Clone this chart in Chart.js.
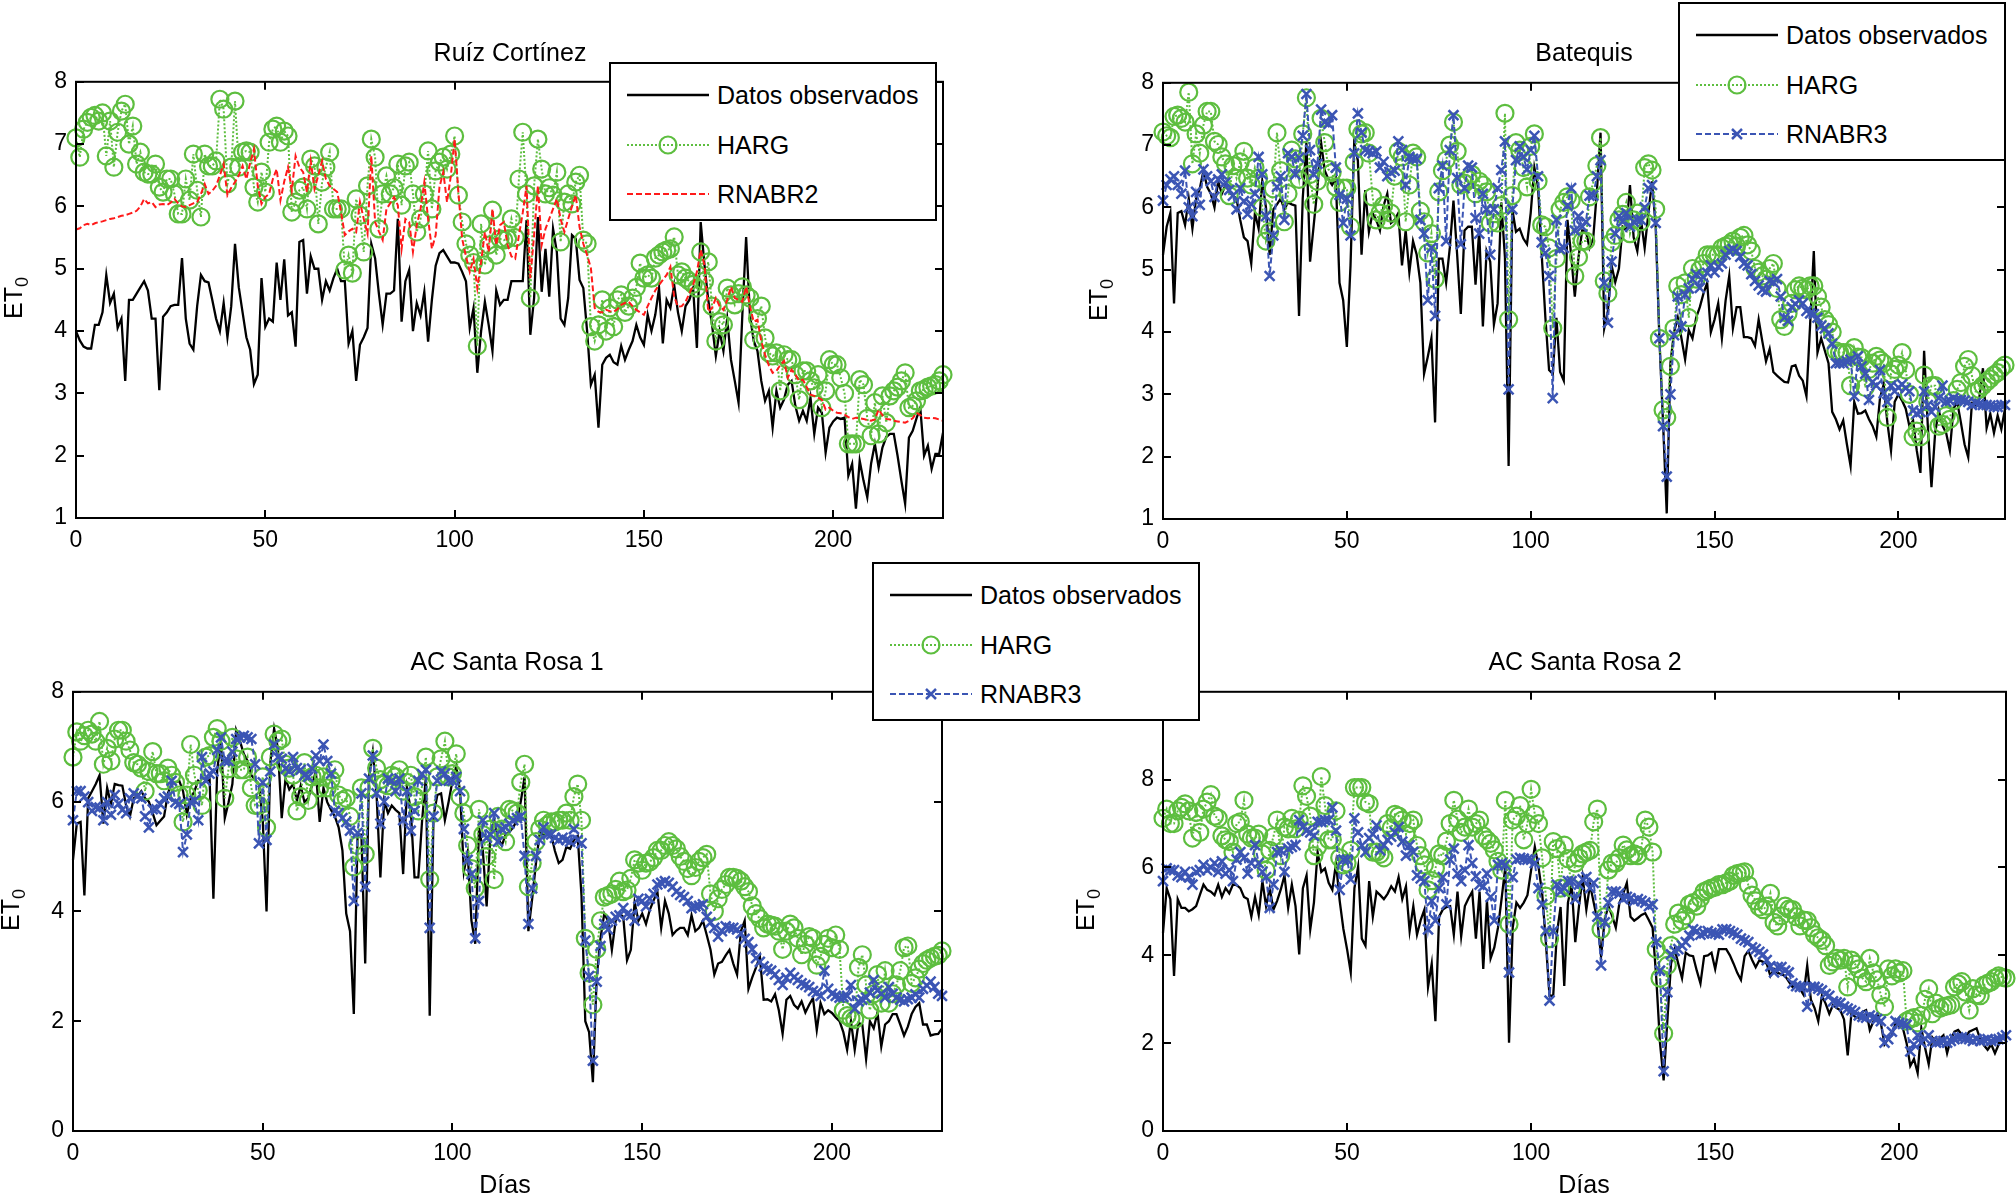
<!DOCTYPE html>
<html>
<head>
<meta charset="utf-8">
<script src="https://cdn.jsdelivr.net/npm/chart.js@4.4.1/dist/chart.umd.min.js"></script>
<style>
body { margin: 0; background: #fff; width: 2016px; height: 1195px; overflow: hidden; position: relative;
  font-family: "Liberation Sans", Arial, Helvetica, sans-serif; color: #000; }
canvas { position: absolute; }
.ttl { position: absolute; font-size: 25px; transform: translate(-50%, -50%); white-space: nowrap; }
.ylab { position: absolute; font-size: 25px; white-space: nowrap; line-height: 1; transform: translate(-50%, -50%) rotate(-90deg); }
.ylab sub { font-size: 18px; vertical-align: -6px; }
.leg { position: absolute; width: 328px; height: 159px; background: #fff; border: 2px solid #000; box-sizing: border-box; z-index: 5; }
.leg svg { position: absolute; left: 14px; }
.leg span { position: absolute; left: 106px; font-size: 25px; transform: translateY(-50%); white-space: nowrap; }
</style>
</head>
<body>
<script>
// x axis: day number (one value per day, 0..229)
const xTicks = [0, 50, 100, 150, 200];
const yTicksTop = [1, 2, 3, 4, 5, 6, 7, 8];
const yTicksSR = [0, 2, 4, 6, 8];

const seriesNames = ['Datos observados', 'HARG', 'RNABR2', 'RNABR3'];
const titles = ['Ruíz Cortínez', 'Batequis', 'AC Santa Rosa 1', 'AC Santa Rosa 2'];

// Ruíz Cortínez
const ruizObs = [
  4.0, 3.85, 3.75, 3.72, 3.72, 4.1, 4.1, 4.3, 4.9, 4.45,
  4.6, 4.05, 4.2, 3.2, 4.5, 4.5, 4.6, 4.7, 4.8, 4.65,
  4.2, 4.2, 3.05, 4.23, 4.3, 4.4, 4.42, 4.42, 5.17, 4.2,
  3.8, 3.7, 4.4, 4.9, 4.8, 4.78, 4.5, 4.2, 4.0, 4.45,
  3.9, 4.4, 5.4, 4.7, 4.3, 3.9, 3.7, 3.15, 3.3, 4.85,
  4.07, 4.2, 4.15, 5.1, 4.5, 5.15, 4.25, 4.3, 3.75, 5.43,
  5.46, 4.6, 5.2, 5.0, 5.0, 4.5, 4.8, 4.65, 4.85, 5.0,
  4.8, 4.8, 3.8, 4.0, 3.2, 3.78, 3.9, 4.05, 5.4, 5.17,
  4.6, 4.1, 4.6, 4.6, 4.65, 5.8, 4.15, 4.8, 4.98, 4.0,
  4.45, 4.25, 4.63, 3.83, 4.5, 5.05, 5.25, 5.3, 5.2, 5.1,
  5.1, 5.08, 4.95, 4.8, 4.05, 4.37, 3.33, 4.0, 4.47, 4.1,
  3.68, 4.65, 4.42, 4.5, 4.5, 4.8, 4.8, 4.8, 4.8, 5.78,
  3.94, 4.53, 5.83, 4.63, 5.32, 4.55, 5.64, 5.27, 4.2, 4.1,
  4.53, 5.54, 5.48, 4.82, 4.69, 4.0, 3.14, 3.3, 2.45, 3.46,
  3.57, 3.62, 3.5, 3.46, 3.76, 3.54, 3.7, 3.84, 4.1, 3.9,
  3.78, 4.26, 4.0, 4.26, 4.69, 3.8, 4.5, 4.37, 4.74, 4.3,
  4.0, 4.4, 4.5, 4.69, 3.73, 5.75, 5.06, 4.5, 4.1, 3.6,
  4.0, 3.68, 4.2, 3.54, 3.2, 2.85, 4.26, 5.51, 4.26, 3.84,
  3.68, 3.2, 2.88, 3.04, 2.45, 3.04, 2.77, 2.9, 3.14, 3.2,
  2.8, 2.56, 2.72, 2.56, 2.93, 2.35, 2.77, 2.69, 2.05, 2.45,
  2.55, 2.61, 2.59, 2.61, 1.68, 1.87, 1.15, 1.92, 1.6, 1.33,
  1.87, 2.19, 1.81, 2.13, 2.3, 2.35, 2.35, 2.0, 1.6, 1.23,
  2.29, 2.4, 2.6, 2.77, 2.0, 2.16, 1.79, 2.03, 2.03, 2.37
];
const ruizHarg = [
  7.1, 6.79, 7.24, 7.35, 7.43, 7.46, 7.37, 7.5, 6.81, 7.37,
  6.63, 7.19, 7.53, 7.64, 7.0, 7.29, 6.68, 6.87, 6.55, 6.52,
  6.52, 6.68, 6.31, 6.23, 6.44, 6.44, 6.2, 5.88, 5.88, 6.44,
  6.1, 6.84, 6.26, 5.83, 6.84, 6.65, 6.65, 6.73, 7.72, 7.56,
  6.36, 6.63, 7.69, 6.63, 6.87, 6.89, 6.87, 6.31, 6.07, 6.55,
  6.23, 7.03, 7.24, 7.29, 7.03, 7.21, 7.13, 5.91, 6.07, 6.26,
  6.31, 5.96, 6.76, 6.65, 5.72, 6.39, 6.63, 6.87, 5.96, 5.96,
  5.96, 4.98, 5.22, 4.93, 6.12, 5.86, 5.27, 6.33, 7.08, 6.79,
  5.64, 6.2, 6.49, 6.2, 6.3, 6.68, 6.02, 6.65, 6.71, 6.2,
  5.59, 5.8, 6.2, 6.89, 5.96, 6.57, 6.71, 6.79, 6.6, 6.84,
  7.13, 6.18, 5.75, 5.4, 5.22, 5.1, 3.76, 5.72, 5.06, 5.38,
  5.94, 5.22, 5.48, 5.46, 5.48, 5.8, 5.5, 6.44, 7.19, 6.2,
  4.53, 6.33, 7.08, 6.6, 6.2, 6.3, 6.18, 6.55, 5.43, 6.07,
  6.2, 6.04, 6.39, 6.5, 5.46, 5.4, 4.07, 3.84, 4.1, 4.5,
  4.0, 4.37, 4.07, 4.5, 4.58, 4.3, 4.4, 4.53, 4.7, 5.09,
  4.85, 4.9, 4.85, 5.17, 5.22, 5.27, 5.3, 5.32, 5.51, 4.9,
  4.95, 4.85, 4.8, 4.75, 4.69, 5.27, 4.8, 5.11, 4.4, 3.84,
  4.15, 4.1, 4.69, 4.58, 4.42, 4.6, 4.71, 4.58, 4.53, 3.86,
  4.2, 4.4, 3.89, 3.65, 3.6, 3.65, 3.04, 3.62, 3.54, 3.54,
  3.3, 2.9, 3.36, 3.36, 3.2, 3.09, 3.3, 2.77, 3.04, 3.54,
  3.46, 3.46, 3.25, 3.0, 2.19, 2.19, 2.19, 3.22, 3.14, 2.6,
  2.32, 2.85, 2.35, 2.96, 2.53, 2.96, 3.04, 3.1, 3.2, 3.33,
  2.77, 2.8, 2.88, 3.04, 3.06, 3.1, 3.12, 3.14, 3.2, 3.3
];
const ruizRnabr2 = [
  5.63, 5.65, 5.7, 5.72, 5.7, 5.73, 5.75, 5.76, 5.78, 5.8,
  5.81, 5.83, 5.85, 5.86, 5.88, 5.9, 5.93, 6.0, 6.12, 6.05,
  6.07, 5.99, 6.03, 6.04, 6.02, 6.06, 6.12, 6.05, 6.0, 5.99,
  6.02, 6.05, 6.07, 6.2, 6.36, 6.2, 6.25, 6.33, 6.5, 6.68,
  6.18, 6.3, 6.39, 6.5, 6.65, 6.44, 6.7, 6.92, 6.33, 6.04,
  6.15, 6.2, 6.44, 6.6, 6.1, 6.4, 6.63, 6.26, 6.81, 6.63,
  6.55, 6.23, 6.73, 6.28, 6.5, 6.73, 6.44, 6.33, 6.28, 6.23,
  5.91, 5.54, 5.6, 5.64, 5.59, 6.07, 5.8, 5.56, 6.81, 5.75,
  5.6, 5.46, 5.96, 6.05, 6.15, 6.02, 5.32, 5.8, 5.75, 5.27,
  5.7, 5.96, 6.39, 5.8, 5.32, 5.54, 6.31, 6.55, 6.07, 6.49,
  7.08, 6.23, 5.48, 5.2, 4.95, 5.16, 4.69, 5.11, 5.59, 5.27,
  5.96, 5.38, 5.7, 5.75, 5.38, 5.2, 5.16, 5.54, 5.9, 6.33,
  4.85, 5.54, 6.33, 5.38, 5.64, 5.8, 5.96, 6.12, 5.8, 5.59,
  5.8, 6.0, 6.18, 5.67, 5.4, 5.22, 5.01, 4.37, 4.31, 4.3,
  4.34, 4.32, 4.31, 4.35, 4.42, 4.45, 4.47, 4.4, 4.34, 4.3,
  4.26, 4.4, 4.53, 4.65, 4.74, 4.82, 4.9, 5.03, 4.55, 4.39,
  4.4, 4.47, 4.6, 4.74, 4.95, 5.3, 5.06, 4.31, 4.37, 4.53,
  4.4, 4.34, 4.5, 4.71, 4.53, 4.5, 4.47, 4.71, 4.4, 4.15,
  4.18, 3.84, 3.62, 3.45, 3.33, 3.36, 3.45, 3.52, 3.25, 3.38,
  3.3, 3.2, 3.22, 3.1, 2.98, 2.96, 2.93, 2.9, 2.74, 2.77,
  2.72, 2.69, 2.68, 2.66, 2.62, 2.59, 2.61, 2.6, 2.59, 2.57,
  2.56, 2.58, 2.74, 2.65, 2.59, 2.58, 2.56, 2.55, 2.54, 2.53,
  2.56, 2.6, 2.69, 2.65, 2.61, 2.6, 2.61, 2.6, 2.58, 2.56
];

// Batequis
const batObs = [
  5.24, 5.69, 5.91, 4.46, 5.91, 5.94, 5.72, 6.14, 5.66, 6.14,
  6.3, 6.59, 6.33, 6.22, 6.0, 6.42, 6.22, 6.36, 6.25, 6.19,
  6.14, 5.8, 5.52, 5.46, 5.1, 5.91, 5.66, 6.42, 6.0, 5.24,
  5.97, 6.05, 6.14, 5.97, 6.08, 6.05, 6.03, 4.26, 6.14, 7.04,
  5.13, 5.72, 6.31, 7.04, 6.59, 6.45, 6.36, 6.47, 4.79, 4.51,
  3.76, 5.07, 7.04, 6.75, 5.24, 6.28, 5.61, 5.91, 5.8, 5.63,
  6.03, 6.22, 5.75, 5.8, 5.91, 5.07, 5.63, 4.96, 5.46, 5.24,
  4.79, 3.33, 3.6, 3.9, 2.55, 5.18, 5.18, 4.79, 5.35, 6.11,
  5.24, 4.29, 5.63, 5.69, 5.69, 4.76, 5.63, 4.09, 5.3, 5.13,
  4.12, 4.46, 6.08, 5.2, 1.85, 5.97, 5.61, 5.66, 5.5, 5.41,
  5.91, 6.64, 6.33, 5.24, 4.23, 3.39, 3.33, 4.23, 3.36, 3.22,
  5.8, 5.24, 4.57, 5.2, 5.63, 5.63, 5.35, 5.5, 6.25, 7.2,
  4.06, 4.34, 5.07, 4.8, 5.02, 5.69, 5.63, 6.36, 5.52, 5.3,
  5.8, 5.35, 5.9, 6.42, 5.69, 3.9, 2.55, 1.09, 3.5, 4.0,
  4.23, 3.9, 3.56, 4.03, 3.9, 4.23, 4.4, 4.62, 4.79, 4.0,
  4.2, 4.46, 3.9, 4.5, 4.9, 4.06, 4.4, 4.4, 3.92, 3.92,
  3.9, 3.78, 4.2, 3.85, 3.53, 3.73, 3.36, 3.3, 3.25, 3.2,
  3.19, 3.45, 3.47, 3.3, 3.22, 2.97, 4.12, 5.3, 3.67, 3.9,
  3.7, 3.5, 2.72, 2.6, 2.44, 2.58, 2.2, 1.85, 2.88, 2.69,
  2.7, 2.74, 2.6, 2.49, 2.32, 2.94, 3.16, 2.55, 2.1, 2.88,
  3.0, 2.9, 2.77, 2.49, 2.58, 2.1, 1.74, 3.7, 2.5, 1.51,
  2.38, 2.74, 2.5, 2.38, 2.1, 2.77, 2.88, 2.55, 2.2, 1.99,
  2.86, 2.83, 2.94, 3.42, 2.46, 2.69, 2.38, 2.66, 2.44, 2.77
];
const batHarg = [
  7.21, 7.15, 7.12, 7.46, 7.48, 7.43, 7.37, 7.85, 6.7, 7.18,
  6.87, 7.32, 7.54, 7.54, 7.06, 7.01, 6.81, 6.7, 6.19, 6.67,
  6.47, 6.73, 6.9, 6.47, 6.36, 6.64, 6.47, 6.0, 5.46, 5.61,
  6.3, 7.2, 6.59, 5.77, 6.22, 6.92, 6.78, 6.45, 7.18, 7.76,
  6.53, 6.05, 6.42, 7.43, 7.04, 6.61, 6.56, 6.33, 6.08, 6.31,
  6.31, 5.69, 6.73, 7.26, 7.18, 7.2, 6.87, 6.17, 5.8, 5.91,
  6.03, 5.8, 5.91, 6.5, 6.9, 6.81, 5.77, 6.36, 6.87, 6.81,
  5.94, 5.77, 5.27, 5.58, 4.85, 6.25, 6.59, 6.76, 7.0, 7.37,
  6.9, 6.36, 6.39, 6.45, 6.53, 6.22, 6.42, 6.36, 6.25, 5.75,
  5.9, 5.75, 6.03, 7.51, 4.2, 6.19, 7.04, 6.92, 6.64, 6.33,
  6.98, 7.18, 6.42, 5.72, 5.69, 5.35, 4.06, 5.18, 5.97, 6.08,
  6.17, 6.11, 4.9, 5.2, 5.46, 5.46, 6.17, 6.4, 6.67, 7.12,
  4.82, 4.62, 5.44, 5.55, 5.8, 5.89, 6.08, 5.58, 5.8, 5.91,
  5.77, 6.64, 6.7, 6.6, 5.97, 3.9, 2.75, 2.63, 3.45, 4.06,
  4.74, 4.6, 4.79, 4.23, 5.02, 4.85, 5.0, 5.1, 5.24, 5.24,
  5.24, 5.24, 5.35, 5.38, 5.41, 5.46, 5.38, 5.52, 5.55, 5.4,
  5.3, 5.02, 4.96, 4.9, 4.85, 5.02, 5.1, 4.7, 4.2, 4.09,
  4.3, 4.46, 4.68, 4.74, 4.7, 4.68, 4.74, 4.74, 4.57, 4.4,
  4.2, 4.12, 4.0, 3.7, 3.67, 3.67, 3.67, 3.14, 3.75, 3.6,
  3.59, 3.11, 3.4, 3.5, 3.61, 3.55, 3.5, 2.63, 3.33, 3.4,
  3.47, 3.67, 3.39, 3.0, 2.32, 2.41, 2.32, 3.31, 2.88, 3.14,
  3.14, 2.49, 2.52, 2.66, 2.6, 2.9, 3.08, 3.19, 3.45, 3.56,
  3.3, 3.05, 3.08, 3.14, 3.2, 3.25, 3.31, 3.35, 3.42, 3.47
];
const batRnabr3 = [
  6.11, 6.36, 6.45, 6.5, 6.36, 6.22, 6.59, 6.0, 5.86, 6.25,
  6.04, 6.61, 6.5, 6.42, 6.17, 6.45, 6.53, 6.4, 6.28, 6.19,
  5.97, 6.31, 6.1, 5.89, 6.05, 6.22, 6.81, 6.53, 5.86, 4.9,
  5.55, 6.33, 6.5, 5.8, 6.87, 6.81, 6.53, 6.8, 7.15, 7.82,
  6.92, 6.53, 6.7, 7.57, 7.37, 7.34, 7.48, 6.64, 6.2, 5.75,
  6.14, 5.55, 6.87, 7.51, 7.2, 6.92, 6.9, 6.87, 6.9, 6.64,
  6.73, 6.5, 6.56, 6.59, 7.06, 6.92, 6.36, 6.81, 6.78, 6.78,
  5.8, 5.58, 4.51, 5.35, 4.26, 6.31, 6.67, 5.46, 6.92, 7.48,
  6.47, 5.41, 6.31, 6.67, 6.64, 5.83, 5.58, 6.22, 5.97, 5.24,
  5.97, 6.31, 6.6, 7.06, 3.08, 5.97, 6.76, 6.98, 6.81, 6.61,
  6.92, 7.15, 6.5, 5.44, 5.27, 4.9, 2.94, 5.8, 5.33, 5.35,
  6.03, 6.31, 5.63, 5.86, 5.69, 5.77, 6.19, 6.19, 6.5, 6.76,
  4.79, 4.15, 5.13, 5.58, 5.86, 5.77, 5.91, 5.69, 5.77, 5.8,
  5.8, 6.0, 6.31, 6.36, 5.75, 3.9, 2.49, 1.68, 3.0, 3.95,
  4.57, 4.09, 4.6, 4.7, 4.85, 4.93, 4.71, 4.88, 4.95, 5.07,
  4.96, 5.05, 5.1, 5.24, 5.3, 5.33, 5.3, 5.21, 5.1, 5.07,
  4.93, 4.82, 4.75, 4.68, 4.65, 4.82, 4.8, 4.85, 4.57, 4.23,
  4.18, 4.4, 4.45, 4.51, 4.46, 4.34, 4.3, 4.29, 4.23, 4.1,
  4.06, 3.98, 3.81, 3.5, 3.5, 3.5, 3.53, 3.56, 2.97, 3.61,
  3.45, 3.33, 2.91, 3.2, 3.14, 3.39, 3.02, 2.88, 3.14, 3.05,
  3.11, 3.16, 3.1, 3.05, 2.74, 2.69, 2.72, 3.05, 2.83, 2.72,
  2.8, 2.94, 3.14, 2.88, 2.9, 2.94, 2.91, 2.91, 2.9, 2.88,
  2.83, 2.86, 2.85, 2.83, 2.83, 2.82, 2.8, 2.8, 2.83, 2.83
];

// AC Santa Rosa 1
const sr1Obs = [
  4.94, 5.6, 5.63, 4.29, 6.06, 6.19, 6.32, 6.48, 5.6, 6.25,
  5.96, 6.32, 6.3, 6.29, 5.93, 5.73, 6.06, 6.1, 6.19, 6.06,
  6.0, 5.79, 5.57, 5.65, 5.73, 6.15, 6.32, 6.35, 6.38, 6.19,
  5.76, 6.06, 6.19, 6.38, 6.32, 6.38, 6.4, 4.23, 6.58, 7.1,
  5.7, 5.99, 6.32, 7.3, 7.1, 6.87, 6.74, 6.48, 6.4, 6.32,
  5.66, 4.0, 6.71, 7.33, 6.97, 5.7, 6.42, 6.22, 6.32, 6.02,
  6.29, 5.99, 6.06, 6.3, 6.55, 5.63, 6.25, 5.99, 5.85, 5.73,
  5.53, 5.11, 3.96, 3.64, 2.13, 5.4, 5.4, 3.05, 6.45, 6.91,
  6.12, 4.62, 6.02, 5.79, 5.93, 5.85, 5.79, 4.68, 6.25, 5.86,
  4.62, 4.62, 5.66, 6.45, 2.1, 5.73, 6.12, 6.15, 5.66, 6.0,
  6.38, 6.64, 6.19, 4.72, 5.08, 3.83, 3.41, 5.53, 5.11, 4.09,
  5.4, 5.66, 5.34, 5.2, 5.4, 5.45, 5.53, 5.66, 6.0, 6.45,
  3.64, 4.23, 4.88, 5.43, 5.4, 5.4, 5.4, 5.1, 4.88, 4.94,
  5.17, 5.14, 5.3, 5.37, 4.29, 2.0, 1.8, 0.89, 2.79, 3.51,
  3.96, 3.83, 3.3, 3.83, 3.96, 3.9, 3.11, 3.3, 4.16, 3.83,
  3.96, 3.77, 4.03, 4.2, 4.36, 3.7, 4.19, 3.96, 3.57, 3.65,
  3.7, 3.7, 3.57, 3.93, 3.64, 3.7, 3.83, 3.57, 3.3, 2.85,
  3.05, 3.08, 3.2, 3.3, 3.05, 2.85, 3.64, 3.83, 2.59, 2.8,
  2.98, 3.18, 2.39, 2.4, 2.36, 2.49, 2.2, 1.77, 2.39, 2.46,
  2.3, 2.23, 2.36, 2.16, 2.3, 2.42, 1.84, 2.33, 2.13, 2.2,
  2.15, 2.07, 2.0, 1.8, 1.48, 2.0, 1.48, 1.97, 1.94, 1.31,
  2.0, 1.87, 2.16, 1.54, 1.94, 2.0, 2.13, 2.13, 1.94, 1.74,
  1.9, 2.13, 2.26, 2.33, 1.94, 1.94, 1.74, 1.76, 1.77, 1.87
];
const sr1Harg = [
  6.81, 7.27, 7.1, 7.2, 7.3, 7.23, 7.1, 7.46, 6.68, 6.97,
  6.74, 7.14, 7.3, 7.3, 7.1, 6.94, 6.71, 6.68, 6.61, 6.19,
  6.55, 6.91, 6.51, 6.51, 6.38, 6.61, 6.48, 6.35, 6.12, 5.63,
  6.12, 7.04, 6.48, 6.2, 5.93, 6.81, 6.84, 7.17, 7.33, 7.1,
  6.06, 6.6, 7.17, 6.78, 6.58, 6.58, 6.81, 6.25, 5.93, 5.93,
  6.45, 5.53, 6.81, 7.23, 7.1, 7.14, 6.68, 6.61, 6.48, 5.83,
  6.09, 6.71, 6.02, 6.45, 6.48, 6.25, 6.45, 6.25, 6.4, 6.58,
  6.12, 6.02, 6.06, 5.73, 4.81, 5.2, 6.25, 5.04, 6.25, 6.97,
  6.61, 6.4, 6.32, 6.29, 6.48, 6.45, 6.58, 6.19, 6.35, 6.48,
  6.09, 5.83, 6.3, 6.81, 4.58, 5.79, 6.45, 6.78, 7.1, 6.45,
  6.51, 6.87, 6.09, 5.79, 5.2, 4.78, 4.42, 5.86, 5.4, 5.0,
  5.5, 4.58, 5.73, 5.5, 5.27, 5.86, 5.83, 5.79, 6.35, 6.68,
  4.45, 4.88, 5.27, 5.5, 5.66, 5.57, 5.63, 5.63, 5.66, 5.66,
  5.79, 5.66, 6.09, 6.32, 5.66, 3.51, 2.88, 2.3, 3.31, 3.83,
  4.26, 4.29, 4.32, 4.4, 4.55, 4.36, 4.39, 4.6, 4.94, 4.88,
  4.75, 4.88, 4.9, 4.98, 5.11, 5.11, 5.2, 5.27, 5.2, 5.14,
  5.0, 4.91, 4.78, 4.65, 4.8, 4.91, 4.98, 5.04, 4.32, 4.0,
  4.23, 4.4, 4.49, 4.62, 4.62, 4.6, 4.55, 4.45, 4.36, 4.1,
  3.96, 3.87, 3.7, 3.77, 3.75, 3.73, 3.64, 3.31, 3.64, 3.77,
  3.7, 3.51, 3.21, 3.4, 3.54, 3.51, 3.02, 3.18, 3.4, 3.51,
  3.34, 3.57, 3.31, 2.2, 2.1, 2.05, 2.03, 2.98, 3.21, 2.66,
  2.2, 2.5, 2.85, 2.33, 2.92, 2.33, 2.5, 2.66, 2.92, 3.34,
  3.37, 2.69, 2.79, 2.95, 3.05, 3.11, 3.15, 3.18, 3.2, 3.28
];
const sr1Rnabr3 = [
  5.66, 6.19, 6.19, 6.09, 5.99, 5.83, 5.9, 5.89, 5.66, 5.99,
  5.76, 6.12, 5.96, 5.85, 5.79, 6.06, 6.15, 6.1, 6.06, 5.73,
  5.53, 5.86, 5.86, 5.95, 6.06, 6.09, 6.38, 5.99, 5.96, 5.08,
  5.4, 5.99, 6.02, 5.66, 6.81, 6.38, 6.51, 6.55, 6.94, 7.17,
  6.74, 6.74, 6.91, 7.14, 7.17, 7.2, 7.17, 7.14, 6.68, 5.24,
  6.35, 5.3, 6.55, 7.04, 6.81, 6.78, 6.6, 6.55, 6.81, 6.61,
  6.58, 6.48, 6.45, 6.6, 6.84, 6.74, 7.04, 6.74, 6.51, 5.83,
  5.79, 5.7, 5.63, 5.47, 4.19, 5.43, 6.15, 4.45, 6.42, 6.84,
  6.15, 5.6, 6.0, 6.42, 6.38, 6.19, 6.42, 5.66, 6.19, 5.47,
  5.83, 6.38, 6.5, 6.58, 3.7, 5.73, 6.38, 6.55, 6.51, 6.38,
  6.38, 6.45, 6.19, 5.5, 4.94, 4.68, 3.51, 4.19, 5.66, 5.34,
  5.4, 5.79, 5.27, 5.5, 5.53, 5.6, 5.66, 5.7, 5.73, 5.01,
  3.77, 4.42, 5.01, 5.3, 5.53, 5.4, 5.4, 5.34, 5.3, 5.34,
  5.3, 5.27, 5.5, 5.3, 5.24, 3.47, 2.82, 1.28, 2.72, 3.37,
  3.77, 3.67, 3.83, 3.9, 3.93, 4.06, 3.95, 3.93, 3.83, 4.23,
  4.19, 4.09, 4.23, 4.32, 4.49, 4.52, 4.55, 4.52, 4.45, 4.36,
  4.3, 4.26, 4.19, 4.06, 4.09, 4.1, 4.13, 3.9, 3.8, 3.7,
  3.54, 3.64, 3.73, 3.7, 3.7, 3.67, 3.6, 3.5, 3.44, 3.31,
  3.15, 3.08, 3.0, 2.95, 2.92, 2.85, 2.75, 2.66, 2.79, 2.88,
  2.8, 2.75, 2.69, 2.66, 2.62, 2.55, 2.52, 2.46, 2.92, 2.59,
  2.5, 2.46, 2.43, 2.44, 2.46, 2.66, 2.23, 2.36, 2.39, 2.43,
  2.52, 2.75, 2.56, 2.5, 2.43, 2.62, 2.5, 2.43, 2.39, 2.36,
  2.4, 2.43, 2.49, 2.43, 2.59, 2.65, 2.72, 2.62, 2.5, 2.46
];

// AC Santa Rosa 2
const sr2Obs = [
  4.51, 5.53, 5.28, 3.53, 5.28, 5.08, 5.08, 5.0, 5.05, 5.12,
  5.37, 5.61, 5.49, 5.45, 5.37, 5.61, 5.33, 5.53, 5.41, 5.61,
  5.6, 5.53, 5.33, 5.28, 4.88, 5.33, 4.92, 5.69, 5.12, 5.53,
  5.04, 5.24, 5.5, 5.82, 5.08, 5.61, 5.12, 4.02, 5.53, 5.82,
  4.59, 5.2, 6.35, 5.9, 5.98, 5.65, 5.49, 6.1, 5.24, 4.6,
  4.14, 3.61, 5.53, 6.02, 4.38, 4.22, 5.69, 4.88, 5.45, 5.37,
  5.28, 5.4, 5.57, 5.45, 5.78, 5.28, 5.57, 4.55, 5.12, 4.47,
  4.8, 5.04, 3.28, 3.81, 2.5, 4.88, 5.04, 5.1, 5.12, 4.47,
  5.45, 4.43, 5.12, 5.3, 5.45, 4.38, 5.45, 3.69, 5.24, 3.93,
  4.18, 4.63, 5.3, 6.02, 2.01, 4.63, 5.2, 5.08, 5.2, 5.37,
  5.94, 6.47, 6.02, 5.41, 4.3, 3.08, 3.08, 4.5, 5.1, 3.3,
  5.2, 5.61, 4.3, 5.12, 5.78, 5.04, 5.61, 5.2, 4.79, 3.98,
  4.83, 5.12, 4.9, 4.63, 5.2, 5.4, 5.65, 4.88, 4.79, 4.85,
  4.92, 4.96, 4.8, 4.63, 3.48, 2.01, 1.15, 2.5, 3.81, 4.14,
  3.8, 3.48, 4.06, 4.0, 3.98, 3.65, 3.36, 3.98, 4.0, 4.06,
  3.69, 4.14, 4.14, 4.14, 4.0, 3.81, 3.6, 3.44, 3.98, 4.1,
  3.9, 3.73, 3.89, 3.85, 3.81, 3.53, 3.69, 3.6, 3.57, 3.53,
  3.4, 3.28, 3.36, 3.24, 3.1, 3.77, 2.99, 2.8, 2.5, 3.08,
  2.9, 2.67, 2.87, 2.8, 2.75, 2.54, 1.72, 2.67, 2.6, 2.58,
  2.71, 2.75, 2.3, 2.5, 2.67, 2.46, 1.97, 2.1, 2.18, 2.46,
  2.38, 2.34, 2.0, 1.48, 1.64, 1.32, 2.34, 1.9, 1.52, 2.13,
  2.01, 2.1, 2.18, 1.77, 2.09, 2.26, 2.3, 2.2, 2.13, 2.26,
  2.3, 2.34, 2.09, 1.95, 1.85, 1.97, 1.77, 1.97, 2.13, 2.2
];
const sr2Harg = [
  7.12, 7.33, 7.0, 7.0, 7.29, 7.37, 7.45, 7.29, 6.67, 7.25,
  6.8, 7.33, 7.49, 7.66, 7.17, 7.12, 6.72, 6.63, 6.59, 6.35,
  7.0, 7.04, 7.53, 6.76, 6.67, 6.67, 6.76, 6.31, 5.94, 6.39,
  6.7, 7.08, 6.27, 6.92, 6.88, 7.12, 6.88, 7.08, 7.86, 7.62,
  7.17, 6.27, 6.47, 8.07, 7.41, 6.63, 6.63, 7.29, 6.22, 6.06,
  6.1, 6.39, 7.82, 7.82, 7.82, 7.49, 7.45, 6.35, 6.35, 6.3,
  6.22, 7.0, 6.9, 7.21, 7.17, 7.08, 6.76, 7.0, 7.08, 6.5,
  6.27, 6.06, 5.49, 5.7, 5.98, 6.31, 6.27, 6.6, 7.0, 7.53,
  7.1, 6.8, 6.92, 7.33, 6.92, 7.0, 7.08, 6.72, 6.63, 6.55,
  6.4, 6.14, 5.94, 7.53, 4.71, 7.08, 7.17, 7.41, 6.63, 7.0,
  7.78, 7.21, 7.0, 6.22, 5.35, 4.38, 6.59, 6.43, 5.53, 6.51,
  6.2, 5.53, 6.1, 6.22, 6.31, 6.35, 6.39, 7.04, 7.33, 4.59,
  4.88, 5.94, 6.1, 6.1, 6.22, 6.51, 6.4, 6.27, 6.31, 6.27,
  6.5, 7.08, 6.92, 6.35, 4.14, 3.48, 2.22, 3.77, 4.22, 4.71,
  4.96, 4.79, 4.9, 5.16, 5.2, 5.12, 5.3, 5.45, 5.49, 5.53,
  5.55, 5.61, 5.61, 5.65, 5.69, 5.82, 5.86, 5.88, 5.9, 5.6,
  5.37, 5.24, 5.1, 5.04, 5.12, 5.41, 4.75, 4.67, 4.9, 5.12,
  5.05, 5.04, 4.88, 4.67, 4.8, 4.79, 4.63, 4.47, 4.4, 4.34,
  4.22, 3.77, 3.85, 3.93, 3.89, 3.93, 3.28, 3.89, 3.8, 3.69,
  3.48, 3.4, 3.93, 3.6, 3.44, 3.1, 2.83, 3.69, 3.53, 3.69,
  3.6, 3.65, 2.5, 2.55, 2.58, 2.46, 2.63, 3.0, 3.24, 2.67,
  2.91, 2.79, 2.83, 2.85, 2.87, 3.28, 3.35, 3.4, 3.16, 2.75,
  3.24, 3.1, 3.08, 3.32, 3.36, 3.4, 3.48, 3.53, 3.5, 3.48
];
const sr2Rnabr3 = [
  5.69, 5.98, 5.94, 5.94, 5.82, 5.78, 5.9, 5.78, 5.61, 5.9,
  5.94, 6.06, 5.94, 6.0, 6.1, 5.9, 6.14, 5.86, 5.94, 5.69,
  6.18, 6.35, 6.22, 5.86, 6.1, 6.51, 6.1, 5.9, 5.78, 5.08,
  5.61, 6.35, 6.39, 5.9, 6.43, 6.47, 6.51, 7.08, 6.92, 6.84,
  6.8, 6.72, 7.04, 7.04, 7.08, 7.08, 7.37, 6.84, 5.49, 6.18,
  6.18, 5.73, 7.12, 6.8, 6.5, 6.35, 6.67, 6.76, 6.96, 6.39,
  6.51, 6.63, 6.7, 6.8, 6.92, 6.59, 6.27, 6.51, 6.35, 5.82,
  5.75, 5.69, 4.59, 5.24, 4.79, 5.53, 5.78, 5.16, 6.18, 6.43,
  5.86, 5.69, 5.94, 6.51, 6.1, 5.8, 5.61, 5.57, 5.86, 5.33,
  4.79, 6.06, 6.1, 6.06, 3.61, 5.78, 6.18, 6.22, 6.2, 6.18,
  6.18, 6.1, 5.53, 5.16, 4.55, 2.97, 4.55, 5.61, 5.45, 5.53,
  5.69, 5.69, 5.28, 5.61, 5.73, 5.78, 5.53, 5.65, 4.88, 3.77,
  4.75, 5.2, 5.45, 5.45, 5.41, 5.28, 5.33, 5.3, 5.24, 5.28,
  5.24, 5.2, 5.12, 5.16, 4.3, 3.65, 1.36, 3.16, 4.02, 4.1,
  4.14, 4.22, 4.3, 4.45, 4.59, 4.55, 4.47, 4.5, 4.55, 4.51,
  4.5, 4.47, 4.59, 4.59, 4.55, 4.51, 4.47, 4.38, 4.34, 4.3,
  4.18, 4.14, 4.08, 4.02, 3.89, 3.75, 3.61, 3.73, 3.73, 3.65,
  3.61, 3.36, 3.3, 3.28, 3.28, 2.83, 3.28, 3.28, 3.24, 3.2,
  3.12, 3.08, 2.95, 2.93, 2.91, 2.83, 2.79, 2.75, 2.71, 2.63,
  2.6, 2.58, 2.63, 2.58, 2.55, 2.5, 2.01, 2.09, 2.26, 2.5,
  2.46, 2.44, 2.42, 1.81, 1.97, 2.18, 2.01, 2.1, 2.18, 2.05,
  2.01, 2.03, 2.05, 2.01, 2.05, 2.09, 2.13, 2.13, 2.1, 2.09,
  2.05, 2.09, 2.05, 2.07, 2.09, 2.05, 2.07, 2.09, 2.13, 2.18
];

const BLACK = '#000000';
const GREEN = '#5dbe3f';
const RED = '#ff1a1a';
const BLUE = '#3b55b4';

const FONT = '"Liberation Sans", Arial, sans-serif';

function pts(arr) {
  return arr.map((v, i) => ({ x: i, y: v }));
}

function obsSet(arr) {
  return { label: seriesNames[0], data: pts(arr), borderColor: BLACK, borderWidth: 2.3,
    pointRadius: 0, order: 3 };
}
function hargSet(arr) {
  return { label: seriesNames[1], data: pts(arr), borderColor: GREEN, borderWidth: 2,
    borderDash: [2, 2], pointStyle: 'circle', pointRadius: 8.5, pointBorderWidth: 2.2,
    pointBorderColor: GREEN, pointBackgroundColor: 'rgba(0,0,0,0)', order: 2 };
}
function redSet(arr) {
  return { label: seriesNames[2], data: pts(arr), borderColor: RED, borderWidth: 2,
    borderDash: [6, 3], pointRadius: 0, order: 1 };
}
function blueSet(arr) {
  return { label: seriesNames[3], data: pts(arr), borderColor: BLUE, borderWidth: 2,
    borderDash: [6, 3], pointStyle: 'crossRot', pointRadius: 7, pointBorderWidth: 2.5,
    pointBorderColor: BLUE, order: 1 };
}

// box round the axes with inward ticks on all four sides
const boxPlugin = {
  id: 'box',
  afterDatasetsDraw(chart) {
    const { ctx, chartArea: a, scales } = chart;
    const len = 8;
    ctx.save();
    ctx.strokeStyle = '#000';
    ctx.lineWidth = 2;
    ctx.beginPath();
    scales.x.ticks.forEach(t => {
      const px = Math.round(scales.x.getPixelForValue(t.value));
      ctx.moveTo(px, a.bottom); ctx.lineTo(px, a.bottom - len);
      ctx.moveTo(px, a.top); ctx.lineTo(px, a.top + len);
    });
    scales.y.ticks.forEach(t => {
      const py = Math.round(scales.y.getPixelForValue(t.value));
      ctx.moveTo(a.left, py); ctx.lineTo(a.left + len, py);
      ctx.moveTo(a.right, py); ctx.lineTo(a.right - len, py);
    });
    ctx.stroke();
    ctx.strokeRect(a.left, a.top, a.right - a.left, a.bottom - a.top);
    ctx.restore();
  }
};

const PADL = 70, PADT = 20, PADR = 22, PADB = 46;

function panel(plot, ymin, ymax, yTicks, datasets) {
  const c = document.createElement('canvas');
  const w = plot.r - plot.l + PADL + PADR;
  const h = plot.b - plot.t + PADT + PADB;
  c.style.left = (plot.l - PADL) + 'px';
  c.style.top = (plot.t - PADT) + 'px';
  c.style.width = w + 'px';
  c.style.height = h + 'px';
  c.width = w; c.height = h;
  document.body.appendChild(c);
  new Chart(c, {
    type: 'line',
    data: { datasets: datasets.map(d => Object.assign({ tension: 0, clip: false, fill: false }, d)) },
    plugins: [boxPlugin],
    options: {
      responsive: false,
      animation: false,
      events: [],
      devicePixelRatio: 1,
      layout: { padding: { left: 0, top: PADT, right: PADR, bottom: 0 } },
      plugins: { legend: { display: false }, tooltip: { enabled: false }, title: { display: false } },
      scales: {
        x: {
          type: 'linear', min: 0, max: 229,
          afterBuildTicks: s => { s.ticks = xTicks.map(v => ({ value: v })); },
          afterFit: s => { s.height = PADB; },
          grid: { display: false, drawTicks: false },
          border: { display: false },
          ticks: { color: '#000', padding: 9, maxRotation: 0, autoSkip: false,
            font: { family: FONT, size: 23 } }
        },
        y: {
          type: 'linear', min: ymin, max: ymax,
          afterBuildTicks: s => { s.ticks = yTicks.map(v => ({ value: v })); },
          afterFit: s => { s.width = PADL; },
          grid: { display: false, drawTicks: false },
          border: { display: false },
          ticks: { color: '#000', padding: 9, autoSkip: false,
            font: { family: FONT, size: 23 } }
        }
      }
    }
  });
}

panel({ l: 76, t: 79, r: 943, b: 518 }, 1, 8, yTicksTop,
  [obsSet(ruizObs), hargSet(ruizHarg), redSet(ruizRnabr2)]);
panel({ l: 1163, t: 80, r: 2005, b: 519 }, 1, 8, yTicksTop,
  [obsSet(batObs), hargSet(batHarg), blueSet(batRnabr3)]);
panel({ l: 73, t: 689, r: 942, b: 1131 }, 0, 8, yTicksSR,
  [obsSet(sr1Obs), hargSet(sr1Harg), blueSet(sr1Rnabr3)]);
panel({ l: 1163, t: 689, r: 2006, b: 1131 }, 0, 10, yTicksSR,
  [obsSet(sr2Obs), hargSet(sr2Harg), blueSet(sr2Rnabr3)]);

// titles and axis labels
function text(cls, html, x, y) {
  const d = document.createElement('div');
  d.className = cls;
  d.innerHTML = html;
  d.style.left = x + 'px';
  d.style.top = y + 'px';
  document.body.appendChild(d);
}
text('ttl', titles[0], 510, 52);
text('ttl', titles[1], 1584, 52);
text('ttl', titles[2], 507, 661);
text('ttl', titles[3], 1585, 661);
text('ylab', 'ET<sub>0</sub>', 16, 298);
text('ylab', 'ET<sub>0</sub>', 1101, 300);
text('ylab', 'ET<sub>0</sub>', 13, 910);
text('ylab', 'ET<sub>0</sub>', 1088, 910);
text('ttl', 'Días', 505, 1184);
text('ttl', 'Días', 1584, 1184);

// legends
function sample(kind) {
  const dash = { obs: '', harg: '2,2', red: '6,3', blue: '6,3' }[kind];
  const col = { obs: BLACK, harg: GREEN, red: RED, blue: BLUE }[kind];
  const wid = kind === 'obs' ? 2.3 : 2;
  let s = '<svg width="86" height="24" viewBox="0 0 86 24">' +
    '<line x1="2" y1="12" x2="84" y2="12" stroke="' + col + '" stroke-width="' + wid + '"' +
    (dash ? ' stroke-dasharray="' + dash + '"' : '') + '/>';
  if (kind === 'harg') s += '<circle cx="43" cy="12" r="8.5" fill="none" stroke="' + col + '" stroke-width="2.2"/>';
  if (kind === 'blue') s += '<path d="M38 7 L48 17 M48 7 L38 17" stroke="' + col + '" stroke-width="2.5"/>';
  return s + '</svg>';
}
function legend(x, y, kinds, names) {
  const d = document.createElement('div');
  d.className = 'leg';
  d.style.left = x + 'px';
  d.style.top = y + 'px';
  let html = '';
  kinds.forEach((k, i) => {
    const cy = 31 + i * 49.5;
    html += '<div style="position:absolute;left:0;top:' + (cy - 12) + 'px">' + sample(k) + '</div>';
    html += '<span style="top:' + cy + 'px">' + names[i] + '</span>';
  });
  d.innerHTML = html;
  document.body.appendChild(d);
}
legend(609, 62, ['obs', 'harg', 'red'], [seriesNames[0], seriesNames[1], seriesNames[2]]);
legend(1678, 2, ['obs', 'harg', 'blue'], [seriesNames[0], seriesNames[1], seriesNames[3]]);
legend(872, 562, ['obs', 'harg', 'blue'], [seriesNames[0], seriesNames[1], seriesNames[3]]);
</script>
</body>
</html>
